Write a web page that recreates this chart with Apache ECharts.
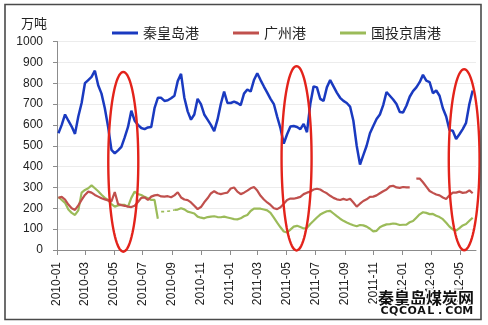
<!DOCTYPE html>
<html>
<head>
<meta charset="utf-8">
<title>港口煤炭库存</title>
<script src="https://cdn.jsdelivr.net/npm/echarts@6/dist/echarts.min.js"></script>
<style>
  html, body { margin: 0; padding: 0; background: #fff; }
  #chart { width: 488px; height: 325px; }
</style>
</head>
<body>
<div id="chart"></div>
<script>
// Weekly stock readings (万吨), one value per week starting Monday 2010-01-04.
const qhdValues = [
  560, 600, 650, 620, 592, 557, 640, 705, 800, 815,
  830, 860, 790, 750, 680, 590, 480, 464, 478, 495,
  540, 590, 668, 620, 600, 585, 580, 588, 590, 680,
  730, 730, 715, 718, 728, 740, 810, 845, 730, 665,
  625, 650, 725, 700, 650, 625, 600, 570, 625, 700,
  760, 705, 705, 712, 705, 695, 750, 770, 760, 815,
  848, 815, 784, 755, 725, 700, 640, 584, 510, 555,
  592, 595, 590, 580, 605, 565, 700, 785, 780, 725,
  715, 780, 815, 785, 755, 730, 715, 705, 688, 620,
  500, 410, 455, 500, 560, 595, 628, 650, 695, 758,
  740, 722, 700, 662, 660, 692, 735, 762, 780, 805,
  840, 812, 805, 752, 765, 740, 680, 640, 575, 572,
  532, 555, 580, 610, 700, 765
];
const gzValues = [
  250, 255, 242, 218, 200, 192, 214, 240, 264, 280,
  275, 264, 256, 248, 243, 238, 233, 278, 220, 215,
  212, 208, 206, 212, 230, 250, 252, 240, 256, 262,
  264, 257, 256, 258, 253, 262, 277, 252, 242, 239,
  228, 212, 196, 206, 229, 248, 271, 282, 272, 268,
  272, 275, 295, 300, 280, 268, 275, 285, 296, 302,
  285, 260, 242, 228, 216, 200, 196, 205, 222, 240,
  247, 246, 250, 255, 268, 275, 280, 290, 294, 290,
  280, 272, 260, 250, 243, 240, 245, 240, 246, 228,
  208, 222, 235, 243, 255, 256, 262, 272, 282, 290,
  305, 308, 300, 298, 302, 300, 300, null, 342, 343,
  325, 304, 283, 274, 266, 262, 252, 245, 262, 275,
  275, 280, 274, 276, 286, 272
];
const jtgValues = [
  254, 240, 226, 194, 178, 168, 190, 275, 288, 296,
  310, 296, 282, 265, 250, 240, 220, 208, 214, 216,
  216, 208, 250, 280, 268, 264, 255, 248, 240, 240,
  150, 184, 184, 186, 188, 192, 194, 200, 195, 184,
  180, 175, 160, 155, 152, 158, 160, 162, 158, 157,
  160, 156, 152, 148, 147, 152, 162, 168, 187, 198,
  198, 198, 194, 190, 178, 155, 131, 109, 89, 84,
  98, 112, 116, 110, 103, 106, 125, 140, 156, 170,
  179, 186, 188, 175, 162, 150, 140, 132, 125, 119,
  114, 120, 118, 112, 102, 89, 92, 109, 117, 123,
  124, 127, 125, 120, 121, 122, 133, 139, 155, 171,
  181, 178, 172, 173, 164, 158, 148, 131, 112, 99,
  93, 105, 118, 125, 140, 155
];
// Weeks (by index) where the 国投京唐港 record is only partly reported: drawn dotted.
const jtgDottedWeeks = [31, 35];

const seriesNames = ['秦皇岛港', '广州港', '国投京唐港'];
const tickLabels = [
  '2010-01', '2010-03', '2010-05', '2010-07', '2010-09', '2010-11',
  '2011-01', '2011-03', '2011-05', '2011-07', '2011-09', '2011-11',
  '2012-01', '2012-03', '2012-05'
];

// Highlight rings around the seasonal low periods.
const ringCenters = ['2010-05-21', '2011-05-22', '2012-05-10'];
const ringHalfDays = [31.7, 31.7, 32.5];
const ringMidValues = [423, 440, 433];
const ringHalfValues = [431, 442, 434];

const DAY = 24 * 3600 * 1000;
const toTime = s => { const p = s.split('-').map(Number); return new Date(p[0], p[1] - 1, p[2] || 1).getTime(); };
const weeks = qhdValues.map((_, i) => new Date(2010, 0, 4 + 7 * i).getTime());
const pairs = vals => weeks.map((t, i) => [t, vals[i] == null ? null : vals[i]]);

const jtgSolid = jtgValues.map((v, i) => (i >= jtgDottedWeeks[0] && i < jtgDottedWeeks[1]) ? null : v);
const jtgDotted = jtgValues.map((v, i) => (i >= jtgDottedWeeks[0] && i <= jtgDottedWeeks[1]) ? v : null);
const tickTimes = tickLabels.map(toTime);
const pad2 = n => (n < 10 ? '0' : '') + n;
const monthText = v => { const d = new Date(v); return d.getFullYear() + '-' + pad2(d.getMonth() + 1); };

const ringData = ringCenters.map((c, i) => [toTime(c), ringMidValues[i], ringHalfDays[i], ringHalfValues[i]]);

const colors = { qhd: '#1a3ac0', gz: '#c0504d', jtg: '#9bbb59', ring: '#e3231b' };
const numFont = 'Liberation Sans';
const cjkFont = 'Noto Sans CJK SC';

const chart = echarts.init(document.getElementById('chart'), null, { renderer: 'canvas' });

// Stamp lettering for the site mark, spaced one glyph at a time.
const markLatin = 'CQCOAL.COM'.split('').map((ch, i) => ({
  type: 'text',
  x: 384.5 + i * 9.25,
  y: 311,
  style: {
    text: ch, fill: '#111', stroke: '#fff', lineWidth: 3,
    font: 'bold 11px "DejaVu Sans"', align: 'center', verticalAlign: 'middle'
  },
  z: 100
}));

chart.setOption({
  animation: false,
  backgroundColor: '#fff',
  title: {
    text: '万吨', left: 16, top: 12,
    textStyle: { fontSize: 13, fontWeight: 'normal', color: '#222', fontFamily: cjkFont }
  },
  legend: {
    data: seriesNames,
    left: 107, top: 21,
    icon: 'rect',
    itemWidth: 26, itemHeight: 3, itemGap: 34,
    textStyle: { fontSize: 14, color: '#222', fontFamily: cjkFont }
  },
  grid: { left: 57, right: 12, top: 41.5, bottom: 75 },
  xAxis: {
    type: 'value',
    min: toTime('2010-01-01'),
    max: toTime('2012-06-04'),
    axisLine: { lineStyle: { color: '#8c8c8c', width: 1 } },
    axisTick: { show: true, customValues: tickTimes, length: 5, lineStyle: { color: '#8c8c8c' } },
    axisLabel: {
      customValues: tickTimes,
      rotate: 90, margin: 12, fontSize: 12, color: '#222', fontFamily: numFont,
      formatter: v => monthText(v)
    },
    splitLine: { show: false }
  },
  yAxis: {
    type: 'value', min: 0, max: 1000, interval: 100,
    axisLine: { show: true, lineStyle: { color: '#8c8c8c' } },
    axisTick: { show: true, length: 4, lineStyle: { color: '#8c8c8c' } },
    axisLabel: { fontSize: 12, color: '#222', margin: 14, fontFamily: numFont, formatter: v => String(v) },
    splitLine: { show: true, lineStyle: { color: '#ececec', width: 1 } }
  },
  series: [
    {
      name: seriesNames[0], type: 'line', data: pairs(qhdValues),
      symbol: 'none', connectNulls: false,
      lineStyle: { color: colors.qhd, width: 2.5 }, itemStyle: { color: colors.qhd }, z: 4
    },
    {
      name: seriesNames[1], type: 'line', data: pairs(gzValues),
      symbol: 'none', connectNulls: false,
      lineStyle: { color: colors.gz, width: 2.2 }, itemStyle: { color: colors.gz }, z: 3
    },
    {
      name: seriesNames[2], type: 'line', data: pairs(jtgSolid),
      symbol: 'none', connectNulls: false,
      lineStyle: { color: colors.jtg, width: 2.2 }, itemStyle: { color: colors.jtg }, z: 2
    },
    {
      name: seriesNames[2], type: 'line', data: pairs(jtgDotted),
      symbol: 'none', connectNulls: false,
      lineStyle: { color: colors.jtg, width: 1.6, type: [3, 3] }, itemStyle: { color: colors.jtg }, z: 2
    },
    {
      type: 'custom',
      data: ringData,
      clip: false,
      silent: true,
      z: 10,
      renderItem: (params, api) => {
        const t = api.value(0), mid = api.value(1);
        const hw = api.value(2) * DAY, hh = api.value(3);
        const pts = [];
        for (let k = 0; k < 96; k++) {
          const a = (k / 96) * Math.PI * 2;
          pts.push(api.coord([t + hw * Math.cos(a), mid + hh * Math.sin(a)]));
        }
        return {
          type: 'polygon',
          shape: { points: pts },
          style: { fill: 'none', stroke: colors.ring, lineWidth: 2.4 }
        };
      }
    }
  ],
  graphic: [
    {
      type: 'rect',
      shape: { x: 5, y: 4.5, width: 476, height: 315 },
      style: { fill: 'none', stroke: '#4a4a4a', lineWidth: 1.6 },
      z: 100
    },
    {
      type: 'text',
      x: 378, y: 298,
      style: {
        text: '秦皇岛煤炭网', fill: '#111', stroke: '#fff', lineWidth: 3,
        font: 'bold 16px "Noto Sans CJK SC"', verticalAlign: 'middle'
      },
      z: 100
    }
  ].concat(markLatin)
});
</script>
</body>
</html>
